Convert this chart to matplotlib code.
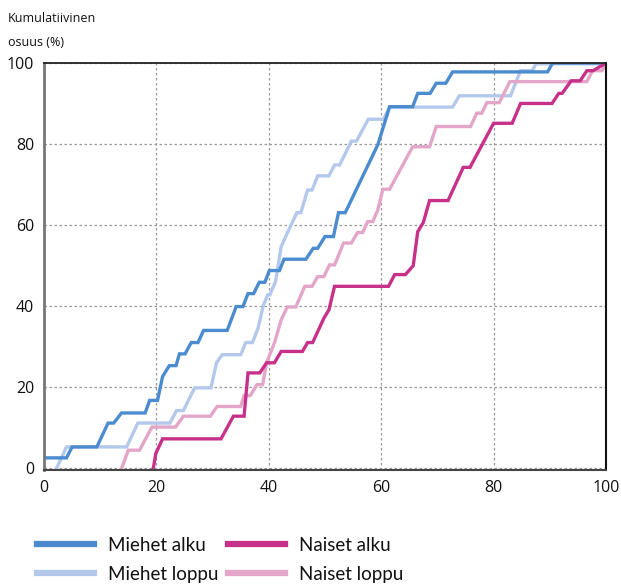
import matplotlib
matplotlib.use("Agg")
import matplotlib.pyplot as plt

# kumulatiivinen osuus, luettu kuvasta
miehet_alku_x = [0, 4.0, 5.0, 9.4, 11.4, 12.4, 13.8, 18.0, 18.8, 20.2, 21.1, 22.3, 23.5, 24.1, 25.1,
                 26.2, 27.4, 28.4, 32.6, 34.2, 35.4, 36.3, 37.3, 38.3, 39.3, 40.1, 41.9, 42.7, 46.6,
                 47.9, 48.7, 50.0, 51.5, 52.4, 53.6, 59.4, 61.5, 65.6, 66.5, 68.7, 69.8, 71.5, 72.7,
                 89.6, 90.5, 100]
miehet_alku_y = [2.4, 2.4, 5.1, 5.1, 11.0, 11.0, 13.5, 13.5, 16.6, 16.6, 22.5, 25.2, 25.2, 28.1, 28.1,
                 30.9, 30.9, 33.9, 33.9, 39.8, 39.8, 43.0, 43.0, 45.8, 45.8, 48.7, 48.7, 51.5, 51.5,
                 54.2, 54.2, 57.1, 57.1, 63.0, 63.0, 79.8, 89.2, 89.2, 92.5, 92.5, 95.0, 95.0, 97.8,
                 97.8, 100, 100]

miehet_loppu_x = [2.1, 4.0, 14.7, 16.7, 22.4, 23.6, 24.8, 26.8, 29.7, 30.7, 31.7, 35.0, 35.9, 37.1,
                  38.1, 39.0, 39.8, 40.2, 41.2, 42.2, 43.0, 45.0, 45.7, 46.9, 47.7, 48.7, 50.7, 51.7,
                  52.6, 54.7, 55.6, 57.7, 60.4, 61.5, 72.7, 73.9, 83.0, 84.8, 86.9, 87.5, 100]
miehet_loppu_y = [-0.6, 5.1, 5.1, 11.0, 11.0, 14.1, 14.1, 19.7, 19.7, 25.9, 27.9, 27.9, 30.9, 30.9,
                  34.5, 40.0, 42.7, 42.7, 46.0, 54.6, 57.1, 63.0, 63.0, 68.6, 68.6, 72.1, 72.1, 74.8,
                  74.8, 80.7, 80.7, 86.1, 86.1, 89.1, 89.1, 91.9, 91.9, 98.1, 98.1, 99.8, 99.8]

naiset_alku_x = [19.4, 19.9, 21.1, 31.5, 33.7, 35.6, 36.3, 38.4, 39.6, 41.0, 42.2, 46.0, 46.9, 47.8,
                 49.8, 50.7, 51.7, 61.3, 62.4, 64.3, 65.7, 66.5, 67.5, 68.6, 71.9, 74.6, 75.8, 80.0,
                 83.3, 84.8, 90.4, 91.6, 92.2, 93.8, 95.4, 96.6, 97.7, 100]
naiset_alku_y = [-0.6, 3.5, 7.1, 7.1, 12.7, 12.7, 23.4, 23.4, 25.9, 25.9, 28.7, 28.7, 30.9, 30.9,
                 36.9, 39.0, 44.8, 44.8, 47.7, 47.7, 49.9, 58.3, 60.6, 66.0, 66.0, 74.2, 74.2, 85.1,
                 85.1, 90.0, 90.0, 92.5, 92.5, 95.6, 95.6, 98.1, 98.1, 100]

naiset_loppu_x = [13.7, 15.0, 17.0, 19.2, 23.4, 24.8, 29.6, 30.8, 35.0, 35.6, 36.7, 37.9, 38.9, 39.6,
                  41.0, 42.2, 43.3, 44.8, 46.4, 47.7, 48.7, 49.8, 50.8, 51.7, 53.3, 54.7, 55.8, 56.7,
                  57.6, 58.5, 59.4, 60.3, 61.5, 65.6, 68.6, 69.8, 75.9, 77.0, 77.9, 78.8, 81.0, 82.9,
                  96.6, 97.6, 99.3, 100]
naiset_loppu_y = [-0.6, 4.3, 4.3, 10.0, 10.0, 12.7, 12.7, 15.1, 15.1, 17.8, 17.8, 20.5, 20.5, 25.9,
                  30.8, 36.5, 39.7, 39.7, 44.8, 44.8, 47.2, 47.2, 50.1, 50.1, 55.5, 55.5, 58.1, 58.1,
                  60.8, 60.8, 63.7, 68.8, 68.8, 79.3, 79.3, 84.3, 84.3, 87.6, 87.6, 90.2, 90.2, 95.4,
                  95.4, 98.1, 98.1, 100]

xticks = [0, 20, 40, 60, 80, 100]
yticks = [0, 20, 40, 60, 80, 100]

plt.rcParams['font.family'] = ['Open Sans', 'DejaVu Sans']

fig = plt.figure(figsize=(6.21, 5.84), dpi=100)
ax = fig.add_axes([44/621, 1-470/584, (606-44)/621, (470-63)/584])

ax.plot(miehet_loppu_x, miehet_loppu_y, color='#b3c8ea', lw=2.4, label='Miehet loppu', solid_joinstyle='miter')
ax.plot(naiset_loppu_x, naiset_loppu_y, color='#e3a5c8', lw=2.4, label='Naiset loppu', solid_joinstyle='miter')
ax.plot(miehet_alku_x, miehet_alku_y, color='#4b8bcf', lw=2.4, label='Miehet alku', solid_joinstyle='miter')
ax.plot(naiset_alku_x, naiset_alku_y, color='#c8318a', lw=2.4, label='Naiset alku', solid_joinstyle='miter')

ax.set_xlim(0, 100)
ax.set_ylim(-0.6, 100)
ax.set_xticks(xticks)
ax.set_yticks(yticks)
ax.tick_params(length=0, labelsize=11.5, colors='#111111')
ax.tick_params(axis='x', pad=7)
ax.tick_params(axis='y', pad=7)
ax.grid(True, color='#999999', linestyle=(0, (2, 2)), lw=0.9)
ax.set_axisbelow(True)

ax.spines['left'].set_color('#777777')
ax.spines['left'].set_linewidth(2)
ax.spines['bottom'].set_color('#444444')
ax.spines['bottom'].set_linewidth(1.5)
ax.spines['top'].set_color('#222222')
ax.spines['top'].set_linewidth(1.3)
ax.spines['right'].set_color('#111111')
ax.spines['right'].set_linewidth(1.5)

fig.text(8/621, 1-18/584, 'Kumulatiivinen', fontsize=9, va='center', ha='left', color='#111111')
fig.text(8/621, 1-42/584, 'osuus (%)', fontsize=9, va='center', ha='left', color='#111111')

h, l = ax.get_legend_handles_labels()
order = [2, 0, 3, 1]
leg = fig.legend([h[i] for i in order], [l[i] for i in order], ncol=2,
                 loc='upper left', bbox_to_anchor=(37/621, 1-537/584), frameon=False,
                 prop={'family': 'Lato', 'size': 13.5}, handlelength=3.04, handletextpad=0.75,
                 columnspacing=0.5, labelspacing=0.62, borderaxespad=0, borderpad=0)
for ln in leg.get_lines():
    ln.set_linewidth(4.5)
for t in leg.get_texts():
    t.set_color('#111111')

fig.savefig('out.png', dpi=100)
